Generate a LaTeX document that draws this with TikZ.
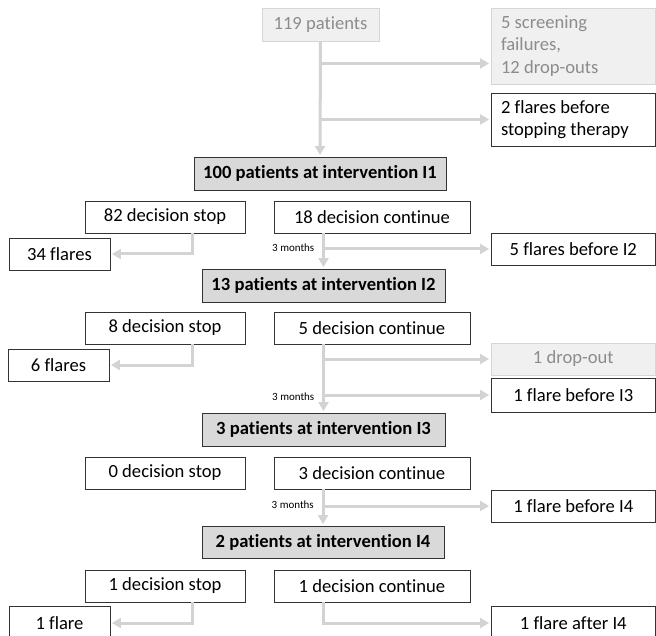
\documentclass[tikz,border=0pt]{standalone}
\usepackage{fontspec}
\setmainfont{Carlito}[RawFeature={-liga;-dlig}]
\usetikzlibrary{arrows.meta,calc}
\definecolor{connc}{HTML}{D3D3D3}
\definecolor{ifill}{HTML}{D9D9D9}
\definecolor{gfill}{HTML}{F0F0F0}
\definecolor{gline}{HTML}{D6D6D6}
\definecolor{gtext}{HTML}{8C8C8C}
\begin{document}
\begin{tikzpicture}[x=1pt,y=-1pt,
  base/.style={rectangle, inner sep=0pt, font=\fontsize{18.6}{22.5}\selectfont},
  wbox/.style={base, draw=black!80, line width=0.9pt, fill=white, text=black},
  gbox/.style={base, draw=gline, line width=0.9pt, fill=gfill, text=gtext},
  ibox/.style={base, draw=black!80, line width=0.9pt, fill=ifill, text=black, font=\fontsize{18.6}{22.5}\selectfont\bfseries},
  lbox/.style={inner xsep=10pt, inner ysep=0pt, text width=144.5pt, align=flush left},
  conn/.style={draw=connc, line width=3pt, -{Triangle[length=9pt,width=10pt]}, shorten >=1.5pt},
  lab/.style={font=\fontsize{11}{13}\selectfont, text=black, inner sep=0pt}
]
\useasboundingbox (0,0) rectangle (656,636);

% top
\node[gbox, minimum width=117, minimum height=33] (p119) at (320.5,24.5) {119 patients};
\node[gbox, lbox, minimum height=76] (scr) at (573.25,46) {5 screening\\failures,\\12 drop-outs};
\node[wbox, lbox, minimum height=53] (fl0) at (573.25,119.5) {2 flares before\\stopping therapy};
\node[ibox, minimum width=252, minimum height=33] (i1) at (320,173.5) {100 patients at intervention I1};

\coordinate (t1) at ($(p119.south)+(0,22)$);
\draw[conn] (p119.south) -- (i1.north);
\draw[conn] (t1) -- (t1 -| scr.west);
\draw[conn] (p119.south |- fl0.west) -- (fl0.west);

% section 1
\node[wbox, minimum width=160, minimum height=32] (s1) at (165,217) {82 decision stop};
\node[wbox, minimum width=196, minimum height=32] (c1) at (372,217) {18 decision continue};
\node[wbox, minimum width=101, minimum height=32] (f1) at (59.5,254) {34 flares};
\node[wbox, minimum width=164.5, minimum height=32] (f2) at (573.25,249) {5 flares before I2};
\node[ibox, minimum width=243, minimum height=33] (i2) at (323.5,285.5) {13 patients at intervention I2};

\draw[conn] ([xshift=27pt]s1.south) |- (f1.east);
\draw[conn] (c1.south -| i2.north) -- (i2.north);
\draw[conn] (i2.north |- f2.west) -- (f2.west);
\path (i2.north |- f2.west) node[lab, anchor=east, xshift=-9pt, yshift=1pt] (m1) {3 months};

% section 2
\node[wbox, minimum width=160, minimum height=32] (s2) at (165,328) {8 decision stop};
\node[wbox, minimum width=196, minimum height=32] (c2) at (372,328) {5 decision continue};
\node[wbox, minimum width=101, minimum height=32] (f2l) at (58.5,365) {6 flares};
\node[gbox, minimum width=164.5, minimum height=32] (d2) at (573.25,359) {1 drop-out};
\node[wbox, minimum width=164.5, minimum height=34] (f3) at (573.25,395) {1 flare before I3};
\node[ibox, minimum width=243, minimum height=33] (i3) at (323.5,429.5) {3 patients at intervention I3};

\draw[conn] ([xshift=27pt]s2.south) |- (f2l.east);
\draw[conn] (c2.south -| i3.north) -- (i3.north);
\draw[conn] (i3.north |- d2.west) -- (d2.west);
\draw[conn] (i3.north |- f3.west) -- (f3.west);
\path (i3.north |- f3.west) node[lab, anchor=east, xshift=-9pt, yshift=-2pt] (m2) {3 months};

% section 3
\node[wbox, minimum width=160, minimum height=32] (s3) at (165,473) {0 decision stop};
\node[wbox, minimum width=196, minimum height=32] (c3) at (372,473) {3 decision continue};
\node[wbox, minimum width=164.5, minimum height=32] (f4) at (573.25,506) {1 flare before I4};
\node[ibox, minimum width=242, minimum height=32] (i4) at (323,542) {2 patients at intervention I4};

\draw[conn] (c3.south -| i4.north) -- (i4.north);
\draw[conn] (i4.north |- f4.west) -- (f4.west);
\path (i4.north |- f4.west) node[lab, anchor=east, xshift=-9pt, yshift=1pt] (m3) {3 months};

% section 4
\node[wbox, minimum width=160, minimum height=32] (s4) at (165,586) {1 decision stop};
\node[wbox, minimum width=196, minimum height=32] (c4) at (372,586) {1 decision continue};
\node[wbox, minimum width=101, minimum height=34] (f5l) at (59.5,623) {1 flare};
\node[wbox, minimum width=164.5, minimum height=34] (fa) at (573.25,623) {1 flare after I4};

\draw[conn] ([xshift=27pt]s4.south) |- (f5l.east);
\draw[conn] (c4.south -| i4.north) |- (fa.west);
\end{tikzpicture}
\end{document}
